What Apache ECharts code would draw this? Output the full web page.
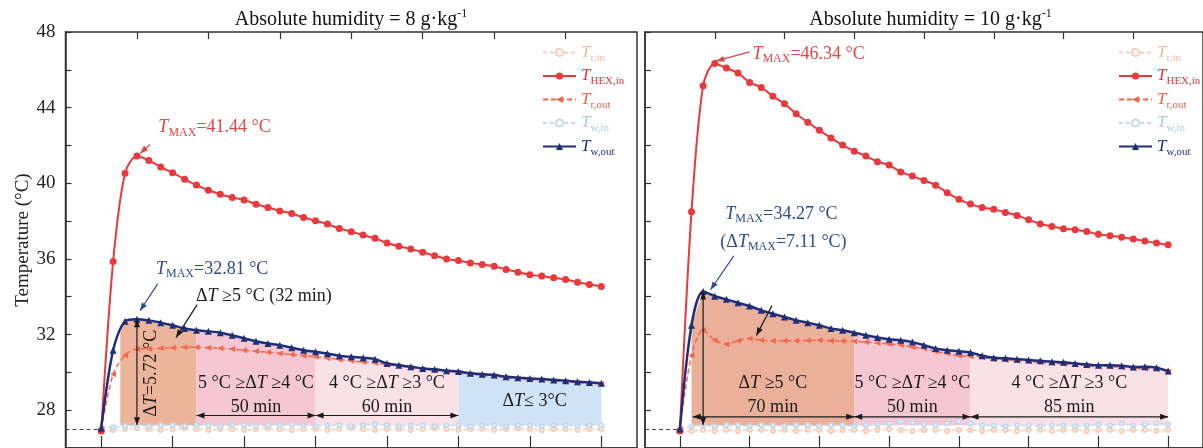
<!DOCTYPE html>
<html><head><meta charset="utf-8">
<script src="https://cdn.jsdelivr.net/npm/echarts@6/dist/echarts.min.js"></script>
<style>html,body{margin:0;padding:0;background:#fff}#c{width:1203px;height:448px}</style>
</head><body><div id="c"></div>
<script>
// ---------- data (time in min, temperature in °C) ----------
const times = [0,5,10,15,20,25,30,35,40,45,50,55,60,65,70,75,80,85,90,95,100,105,110,115,120,125,130,135,140,145,150,155,160,165,170,175,180,185,190,195,200,205,210];
const majorTicks = [0,30,60,90,120,150,180,210];
const minorTicks = [15,45,75,105,135,165,195];
const yLabels = [28,32,36,40,44,48];

// Absolute humidity = 8 g/kg
const hexL  = [26.9,35.86,40.53,41.44,41.21,40.86,40.56,40.21,39.91,39.63,39.42,39.25,39.12,38.89,38.72,38.54,38.4,38.19,38.02,37.84,37.61,37.44,37.26,37.09,36.84,36.67,36.53,36.35,36.17,36.0,35.91,35.79,35.7,35.61,35.44,35.3,35.16,35.09,35.0,34.91,34.77,34.65,34.54];
const woutL = [27.05,31.17,32.7,32.81,32.75,32.63,32.49,32.32,32.23,32.17,32.1,31.96,31.8,31.65,31.53,31.44,31.3,31.17,31.09,31.0,30.88,30.82,30.77,30.7,30.47,30.38,30.3,30.21,30.16,30.09,30.04,29.95,29.9,29.86,29.77,29.72,29.68,29.65,29.6,29.56,29.51,29.47,29.42];
const routL = [27.0,29.9,30.91,31.23,31.23,31.28,31.3,31.33,31.33,31.3,31.27,31.23,31.17,31.12,31.07,31.0,30.95,30.88,30.82,30.75,30.68,30.61,30.55,30.5,30.4,30.33,30.25,30.17,30.11,30.05,29.99,29.9,29.85,29.8,29.72,29.67,29.62,29.6,29.55,29.5,29.46,29.42,29.38];
const winL  = [27.05,27.1,27.15,27.2,27.15,27.2,27.2,27.15,27.2,27.2,27.15,27.2,27.2,27.15,27.2,27.2,27.25,27.2,27.15,27.2,27.2,27.15,27.2,27.25,27.2,27.15,27.2,27.2,27.15,27.2,27.2,27.15,27.2,27.2,27.15,27.2,27.2,27.15,27.2,27.2,27.15,27.2,27.2];
const rinL  = [26.9,26.95,27.0,27.05,27.0,26.95,27.0,27.05,27.0,26.95,27.0,27.0,26.95,27.0,27.05,27.0,26.95,27.0,27.0,26.95,27.0,27.05,27.0,26.95,27.0,27.0,26.95,27.0,27.05,27.0,26.95,27.0,27.0,26.95,27.0,27.05,27.0,26.95,27.0,27.0,26.95,27.0,27.0];
const edgesL = [8,40,90,150,210];

// Absolute humidity = 10 g/kg
const hexR  = [26.9,38.49,45.16,46.34,46.09,45.83,45.33,45.07,44.6,44.2,43.68,43.23,42.8,42.4,42.02,41.7,41.44,41.14,40.96,40.6,40.38,40.15,39.9,39.5,39.15,38.9,38.72,38.62,38.46,38.3,38.07,37.85,37.72,37.6,37.54,37.45,37.3,37.23,37.15,37.05,36.95,36.84,36.75];
const woutR = [27.0,32.49,34.27,34.03,33.86,33.68,33.51,33.28,33.1,32.93,32.75,32.63,32.49,32.32,32.23,32.1,31.96,31.84,31.75,31.7,31.6,31.44,31.26,31.17,31.12,31.05,30.88,30.77,30.74,30.7,30.65,30.61,30.56,30.53,30.47,30.42,30.38,30.38,30.35,30.28,30.3,30.25,30.07];
const routR = [27.0,30.91,32.23,31.7,31.49,31.67,31.79,31.7,31.67,31.67,31.67,31.68,31.7,31.67,31.66,31.65,31.6,31.55,31.5,31.45,31.33,31.26,31.1,31.0,30.88,30.84,30.8,30.7,30.66,30.62,30.57,30.53,30.48,30.45,30.4,30.35,30.31,30.3,30.27,30.22,30.2,30.17,30.05];
const winR  = [27.0,27.15,27.2,27.15,27.2,27.2,27.15,27.2,27.2,27.15,27.2,27.2,27.15,27.2,27.2,27.15,27.2,27.25,27.3,27.4,27.35,27.25,27.2,27.3,27.4,27.3,27.2,27.2,27.15,27.2,27.2,27.15,27.2,27.2,27.15,27.2,27.25,27.2,27.3,27.2,27.25,27.3,27.25];
const rinR  = [26.9,26.9,26.95,26.9,26.95,26.9,26.95,26.95,26.9,26.95,26.9,26.95,26.95,26.9,26.95,26.95,26.9,26.95,27.0,26.95,26.9,26.95,26.95,26.9,26.95,26.95,26.9,26.95,26.95,26.9,26.95,26.95,26.9,26.95,26.95,26.9,26.95,26.95,26.9,26.95,26.95,26.9,26.95];
const edgesR = [5,75,125,210];

const inletT = 27;
const fillBase = 27.2;
const titles = ['8', '10'];
const legendNames = ['Tr,in','THEX,in','Tr,out','Tw,in','Tw,out'];
const legendSubs  = ['r,in','HEX,in','r,out','w,in','w,out'];
const regionTextsL = ['{n|5 °C ≥Δ}{i|T}{n| ≥4 °C}', '{n|4 °C ≥Δ}{i|T}{n| ≥3 °C}', '{n|Δ}{i|T}{n|≤ 3°C}'];
const regionMinsL = ['', '50 min', '60 min', ''];
const regionTextsR = ['{n|Δ}{i|T}{n| ≥5 °C}', '{n|5 °C ≥Δ}{i|T}{n| ≥4 °C}', '{n|4 °C ≥Δ}{i|T}{n| ≥3 °C}'];
const regionMinsR = ['70 min', '50 min', '85 min'];

// ---------- styles ----------
const F = "'Liberation Serif','Times New Roman',serif";
const C = { hex:'#E8393D', wout:'#1E2F78', rout:'#F0694A', rin:'#F7CDB6', win:'#C2D9F0' };
const legendColors = ['#F0B99E','#D9353A','#E4614A','#A9C6E6','#1E2F6E'];
const fillsL = ['#EDB49C','#F4C7D3','#FAE1E8','#CFE2F6'];
const fillsR = ['#EBB09A','#F4C7D3','#FAE1E8'];

const chart = echarts.init(document.getElementById('c'));

const pairs = arr => times.map((t,i)=>[t, arr[i]]);
function interp(arr, t){
  for (let i=0;i<times.length-1;i++){
    if (t>=times[i] && t<=times[i+1]){ const f=(t-times[i])/(times[i+1]-times[i]); return arr[i]+f*(arr[i+1]-arr[i]); }
  }
  return arr[arr.length-1];
}
function regionData(arr, a, b){
  const pts=[[a, interp(arr,a)]];
  times.forEach((t,i)=>{ if (t>a && t<b) pts.push([t, arr[i]]); });
  pts.push([b, interp(arr,b)]);
  return pts;
}

const series = [];
const navyIdx = [];
function addPanel(p, d){
  const xi = p*2, yi = p;
  d.edges.slice(0,-1).forEach((a,k)=>{
    series.push({type:'line', xAxisIndex:xi, yAxisIndex:yi, data: regionData(d.wout, a, d.edges[k+1]),
      symbol:'none', lineStyle:{width:0}, areaStyle:{color:d.fills[k], opacity:1, origin:fillBase}, silent:true, z:1});
  });
  series.push({name:'Tr,in', type:'line', xAxisIndex:xi, yAxisIndex:yi, data:pairs(d.rin), z:2,
    symbol:'emptyCircle', symbolSize:4, itemStyle:{color:C.rin, borderColor:C.rin, borderWidth:1}, lineStyle:{color:C.rin, width:1.5, type:[4,3]}});
  series.push({name:'Tw,in', type:'line', xAxisIndex:xi, yAxisIndex:yi, data:pairs(d.win), z:2,
    symbol:'emptyCircle', symbolSize:4, itemStyle:{color:C.win, borderColor:C.win, borderWidth:1}, lineStyle:{color:C.win, width:1.5, type:[4,3]},
    markLine:{silent:true, symbol:['none','none'], label:{show:false}, lineStyle:{type:[4,3], color:'#444', width:1},
      data:[[{coord:[-15, inletT]},{coord:[0, inletT]}]]}});
  series.push({name:'Tr,out', type:'line', xAxisIndex:xi, yAxisIndex:yi, data:pairs(d.rout), z:3, smooth:0.3,
    symbol:'triangle', symbolRotate:90, symbolSize:6, itemStyle:{color:C.rout}, lineStyle:{color:C.rout, width:1.5, type:[5,3]}});
  series.push({name:'THEX,in', type:'line', xAxisIndex:xi, yAxisIndex:yi, data:pairs(d.hex), z:4, smooth:0.3,
    symbol:'circle', symbolSize:7, itemStyle:{color:C.hex}, lineStyle:{color:C.hex, width:2}});
  navyIdx[p] = series.length;
  series.push({name:'Tw,out', type:'line', xAxisIndex:xi, yAxisIndex:yi, data:pairs(d.wout), z:5, smooth:0.3,
    symbol:'triangle', symbolSize:7, itemStyle:{color:C.wout}, lineStyle:{color:C.wout, width:2.5}});
}
addPanel(0, {hex:hexL, wout:woutL, rout:routL, win:winL, rin:rinL, edges:edgesL, fills:fillsL});
addPanel(1, {hex:hexR, wout:woutR, rout:routR, win:winR, rin:rinR, edges:edgesR, fills:fillsR});

const legendRich = {};
legendColors.forEach((c,k)=>{
  legendRich['i'+k] = {color:c, fontFamily:F, fontStyle:'italic', fontSize:17, lineHeight:22, verticalAlign:'middle'};
  legendRich['s'+k] = {color:c, fontFamily:F, fontSize:11, lineHeight:11, verticalAlign:'bottom'};
});
function legendAt(left){
  return {orient:'vertical', left, top:39, itemWidth:33, itemHeight:9, itemGap:4, selectedMode:false,
    data: legendNames,
    formatter: name => { const k = legendNames.indexOf(name); return `{i${k}|T}{s${k}|${legendSubs[k]}}`; },
    textStyle:{rich:legendRich}};
}

function xAxes(g){
  const base = {gridIndex:g, type:'value', min:-15, max:225, interval:15, axisLabel:{show:false}, splitLine:{show:false}};
  return [
    Object.assign({}, base, {axisLine:{show:true, onZero:false, lineStyle:{color:'#333', width:1.5}},
      axisTick:{show:true, inside:true, length:12, customValues:majorTicks, lineStyle:{color:'#333', width:1.2}}}),
    Object.assign({}, base, {axisLine:{show:false, onZero:false},
      axisTick:{show:true, inside:true, length:7, customValues:minorTicks, lineStyle:{color:'#333', width:1.2}}})
  ];
}
function yAxis(g){
  return {gridIndex:g, type:'value', min:26, max:48, interval:2, splitLine:{show:false},
    axisLine:{show:true, onZero:false, lineStyle:{color:'#333', width:1.5}},
    axisTick:{show:true, inside:true, length:6, lineStyle:{color:'#333', width:1.2}},
    axisLabel:{show:g===0, margin:10, fontFamily:F, fontSize:19, color:'#222',
      formatter: v => yLabels.indexOf(v) >= 0 ? String(v) : ''},
    name: g===0 ? 'Temperature (°C)' : '', nameLocation:'middle', nameGap:33,
    nameTextStyle:{fontFamily:F, fontSize:19, color:'#222'}};
}

chart.setOption({
  animation:false,
  grid:[
    {left:65.5, top:32, width:571.5, height:418, show:true, borderColor:'#333', borderWidth:1.5, backgroundColor:'transparent'},
    {left:645, top:32, width:571, height:418, show:true, borderColor:'#333', borderWidth:1.5, backgroundColor:'transparent'}
  ],
  xAxis: xAxes(0).concat(xAxes(1)),
  yAxis: [yAxis(0), yAxis(1)],
  legend: [legendAt(537), legendAt(1113)],
  series
});

// ---------- annotations (placed in data coordinates) ----------
const R18 = {
  n:{fontFamily:F, fontSize:18, lineHeight:22, verticalAlign:'middle'},
  i:{fontFamily:F, fontSize:18, fontStyle:'italic', lineHeight:22, verticalAlign:'middle'},
  s:{fontFamily:F, fontSize:12, lineHeight:10, verticalAlign:'bottom'}
};
const R20 = {
  n:{fontFamily:F, fontSize:20, lineHeight:24, verticalAlign:'middle'},
  p:{fontFamily:F, fontSize:12, lineHeight:12, verticalAlign:'top'}
};
const P = (p, t, v) => chart.convertToPixel({seriesIndex:navyIdx[p]}, [t, v]);
function txt(p, t, v, str, color, align, rot){
  const [x,y] = P(p, t, v);
  return {type:'text', x, y, rotation:rot||0, z:100, silent:true,
    style:{text:str, x:0, y:0, fill:color, align:align||'center', verticalAlign:'middle', rich:R18, fontSize:18, fontFamily:F}};
}
function arrow(p, a, b, color, headA, headB){
  const A = P(p, a[0], a[1]), B = P(p, b[0], b[1]);
  const els = [{type:'line', z:100, silent:true, shape:{x1:A[0],y1:A[1],x2:B[0],y2:B[1]}, style:{stroke:color, lineWidth:1.2}}];
  const head = (tip, from) => {
    const dx=tip[0]-from[0], dy=tip[1]-from[1], L=Math.hypot(dx,dy), ux=dx/L, uy=dy/L, len=8, w=3;
    const bx=tip[0]-ux*len, by=tip[1]-uy*len;
    return {type:'polygon', z:101, silent:true, shape:{points:[[tip[0],tip[1]],[bx-uy*w,by+ux*w],[bx+uy*w,by-ux*w]]}, style:{fill:color}};
  };
  if (headA) els.push(head(A,B));
  if (headB) els.push(head(B,A));
  return els;
}
const RED='#E24545', NAVY='#2F4A8C', BLK='#1A1A1A';
let G = [];
// titles
G.push({type:'text', x:351, y:20, z:100, silent:true, style:{text:`{n|Absolute humidity = ${titles[0]} g·kg}{p|-1}`, fill:'#111', align:'center', verticalAlign:'middle', rich:R20}});
G.push({type:'text', x:930.5, y:20, z:100, silent:true, style:{text:`{n|Absolute humidity = ${titles[1]} g·kg}{p|-1}`, fill:'#111', align:'center', verticalAlign:'middle', rich:R20}});

// left panel
G.push(txt(0, 24, 42.95, `{i|T}{s|MAX}{n|=${hexL[3]} °C}`, RED, 'left'));
G = G.concat(arrow(0, [20.5,42.05], [16.3,41.58], RED, false, true));
G.push(txt(0, 23, 35.47, `{i|T}{s|MAX}{n|=${woutL[3]} °C}`, NAVY, 'left'));
G = G.concat(arrow(0, [23.7,34.68], [16.3,33.26], NAVY, false, true));
G.push(txt(0, 39.8, 34.05, `{n|Δ}{i|T}{n| ≥5 °C (32 min)}`, BLK, 'left'));
G = G.concat(arrow(0, [40.3,33.58], [31.4,31.84], BLK, false, true));
G = G.concat(arrow(0, [15, woutL[3]], [15, fillBase], BLK, true, true));
G.push(txt(0, 21.2, 29.95, `{n|Δ}{i|T}{n|=5.72 °C}`, BLK, 'center', Math.PI/2));
for (let k=1;k<edgesL.length-1;k++){
  const a=edgesL[k], b=edgesL[k+1], m=(a+b)/2;
  if (regionMinsL[k]) {
    G.push(txt(0, m, 29.42, regionTextsL[k-1], BLK, 'center'));
    G.push(txt(0, m, 28.16, `{n|${regionMinsL[k]}}`, BLK, 'center'));
    G = G.concat(arrow(0, [a,27.72], [b,27.72], BLK, true, true));
  } else {
    G.push(txt(0, m+2, 28.47, regionTextsL[k-1], BLK, 'center'));
  }
}
// right panel
G.push(txt(1, 31.2, 46.84, `{i|T}{s|MAX}{n|=${hexR[3]} °C}`, RED, 'left'));
G = G.concat(arrow(1, [30,46.95], [15.7,46.47], RED, false, true));
G.push(txt(1, 19.5, 38.37, `{i|T}{s|MAX}{n|=${woutR[2]} °C}`, NAVY, 'left'));
G.push(txt(1, 17.4, 36.9, `{n|(Δ}{i|T}{s|MAX}{n|=7.11 °C)}`, NAVY, 'left'));
G = G.concat(arrow(1, [23.2,36.16], [13.2,34.37], NAVY, false, true));
G = G.concat(arrow(1, [39.6,33.53], [32.9,31.95], BLK, false, true));
G = G.concat(arrow(1, [10, woutR[2]], [10, fillBase], BLK, true, true));
for (let k=0;k<edgesR.length-1;k++){
  const a=edgesR[k], b=edgesR[k+1], m=(a+b)/2;
  G.push(txt(1, m, 29.42, regionTextsR[k], BLK, 'center'));
  G.push(txt(1, m, 28.16, `{n|${regionMinsR[k]}}`, BLK, 'center'));
  G = G.concat(arrow(1, [k===0?a+0.5:a,27.65], [b,27.65], BLK, true, true));
}
chart.setOption({graphic: G});
</script>
</body></html>
